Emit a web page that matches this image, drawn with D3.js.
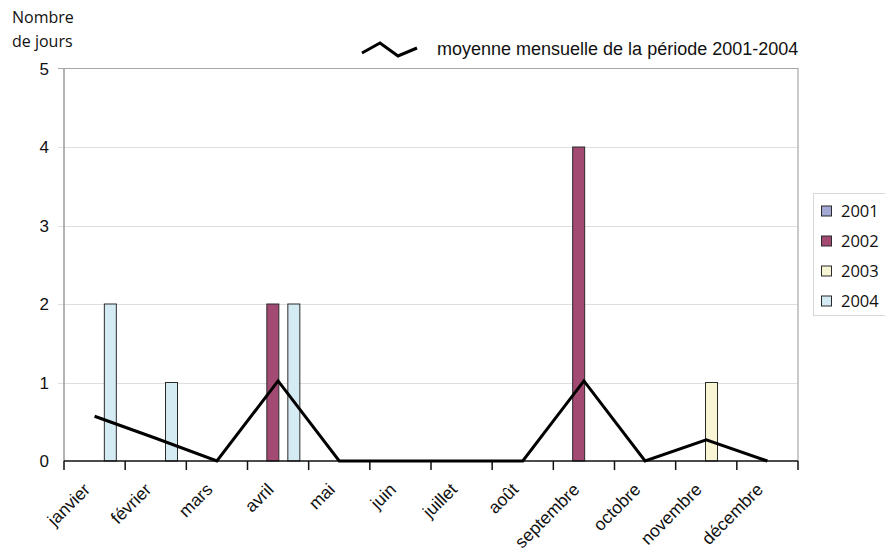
<!DOCTYPE html>
<html lang="fr">
<head>
<meta charset="utf-8">
<title>Nombre de jours par mois</title>
<script src="https://cdn.jsdelivr.net/npm/d3@7"></script>
<style>
  body { margin: 0; background: #fff; }
  svg { display: block; }
</style>
</head>
<body>
<script>
// Data
var months = ["janvier", "février", "mars", "avril", "mai", "juin", "juillet",
              "août", "septembre", "octobre", "novembre", "décembre"];
var years = ["2001", "2002", "2003", "2004"];
var v2001 = [0, 0, 0, 0, 0, 0, 0, 0, 0, 0, 0, 0];
var v2002 = [0, 0, 0, 2, 0, 0, 0, 0, 4, 0, 0, 0];
var v2003 = [0, 0, 0, 0, 0, 0, 0, 0, 0, 0, 1, 0];
var v2004 = [2, 1, 0, 2, 0, 0, 0, 0, 0, 0, 0, 0];
var moyenne = [0.57, 0.29, 0, 1.02, 0, 0, 0, 0, 1.02, 0, 0.27, 0];
var yTicks = [0, 1, 2, 3, 4, 5];
var colors = ["#a3a8d4", "#a34a72", "#f8f5d5", "#d5ebf4"];

var w = 885, h = 551;
var plotL = 64, plotR = 798, plotT = 68.5, plotB = 461;

var series = [v2001, v2002, v2003, v2004];

var svg = d3.select("body").append("svg")
    .attr("width", w)
    .attr("height", h);

var xScale = d3.scaleBand()
    .domain(months)
    .range([plotL, plotR])
    .padding(0);

var subScale = d3.scalePoint()
    .domain(years)
    .range([-15.75, 15.75]);

var yScale = d3.scaleLinear()
    .domain([0, 5])
    .range([plotB, plotT]);

var barW = 12;

// gridlines
svg.append("g")
    .selectAll("line")
    .data(yTicks.filter(function(d) { return d > 0 && d < 5; }))
    .enter().append("line")
    .attr("x1", plotL - 6)
    .attr("x2", plotR)
    .attr("y1", function(d) { return Math.round(yScale(d)) + 0.5; })
    .attr("y2", function(d) { return Math.round(yScale(d)) + 0.5; })
    .attr("stroke", "#dedede")
    .attr("stroke-width", 1);

// plot border (top, right) and y axis
svg.append("path")
    .attr("d", "M" + (plotL - 6) + "," + plotT + "H" + plotR + "V" + plotB)
    .attr("fill", "none")
    .attr("stroke", "#a8a8a8")
    .attr("stroke-width", 1.2);

svg.append("line")
    .attr("x1", plotL).attr("x2", plotL)
    .attr("y1", plotT).attr("y2", plotB)
    .attr("stroke", "#9a9a9a")
    .attr("stroke-width", 1.5);

// y tick labels
svg.append("g")
    .selectAll("text")
    .data(yTicks)
    .enter().append("text")
    .attr("x", 49)
    .attr("y", function(d) { return yScale(d); })
    .attr("dy", "0.36em")
    .attr("text-anchor", "end")
    .attr("font-family", "Liberation Sans, Arial, sans-serif")
    .attr("font-size", "17px")
    .attr("fill", "#111")
    .text(function(d) { return d; });

// bars
var barData = [];
months.forEach(function(m, i) {
    years.forEach(function(y, j) {
        if (series[j][i] > 0) barData.push({ month: m, year: y, value: series[j][i], idx: j });
    });
});

svg.append("g")
    .selectAll("rect")
    .data(barData)
    .enter().append("rect")
    .attr("x", function(d) {
        return xScale(d.month) + xScale.bandwidth() / 2 + subScale(d.year) - barW / 2;
    })
    .attr("y", function(d) { return yScale(d.value); })
    .attr("width", barW)
    .attr("height", function(d) { return yScale(0) - yScale(d.value); })
    .attr("fill", function(d) { return colors[d.idx]; })
    .attr("stroke", "#2a2a2a")
    .attr("stroke-width", 1);

// x axis
var xAxis = svg.append("g");
xAxis.append("line")
    .attr("x1", plotL).attr("x2", plotR)
    .attr("y1", plotB).attr("y2", plotB)
    .attr("stroke", "#111")
    .attr("stroke-width", 1.5);

var tickPos = months.map(function(m) { return xScale(m); }).concat([plotR]);
xAxis.selectAll("line.tick")
    .data(tickPos)
    .enter().append("line")
    .attr("class", "tick")
    .attr("x1", function(d) { return d; })
    .attr("x2", function(d) { return d; })
    .attr("y1", plotB)
    .attr("y2", plotB + 9)
    .attr("stroke", "#111")
    .attr("stroke-width", 1.5);

xAxis.selectAll("text")
    .data(months)
    .enter().append("text")
    .attr("transform", function(d) {
        return "translate(" + (xScale(d) + xScale.bandwidth() / 2 - 12) + "," + (plotB + 21) + ") rotate(-45)";
    })
    .attr("text-anchor", "end")
    .attr("dy", "0.7em")
    .attr("font-family", "Liberation Sans, Arial, sans-serif")
    .attr("font-size", "17.5px")
    .attr("fill", "#111")
    .text(function(d) { return d; });

// average line
var line = d3.line()
    .x(function(d, i) { return xScale(months[i]) + xScale.bandwidth() / 2; })
    .y(function(d) { return yScale(d); });

svg.append("path")
    .datum(moyenne)
    .attr("d", line)
    .attr("fill", "none")
    .attr("stroke", "#000")
    .attr("stroke-width", 3)
    .attr("stroke-linejoin", "miter");

// y axis title
svg.append("text")
    .attr("x", 12).attr("y", 23)
    .attr("font-family", "Open Sans, sans-serif")
    .attr("font-size", "16px")
    .attr("fill", "#111")
    .text("Nombre");
svg.append("text")
    .attr("x", 12).attr("y", 47)
    .attr("font-family", "Open Sans, sans-serif")
    .attr("font-size", "16px")
    .attr("fill", "#111")
    .text("de jours");

// top legend for the line
svg.append("path")
    .attr("d", "M362,53L380,43L398,56L417,48")
    .attr("fill", "none")
    .attr("stroke", "#000")
    .attr("stroke-width", 3);
svg.append("text")
    .attr("x", 437).attr("y", 55)
    .attr("font-family", "Liberation Sans, Arial, sans-serif")
    .attr("font-size", "18px")
    .attr("fill", "#111")
    .text("moyenne mensuelle de la période 2001-2004");

// right legend for the years
var legend = svg.append("g");
legend.append("rect")
    .attr("x", 813.5).attr("y", 193.5)
    .attr("width", 80).attr("height", 122)
    .attr("fill", "#fff")
    .attr("stroke", "#d8d8d8");

var legendY = d3.scalePoint().domain(years).range([211, 301]);
var items = legend.selectAll("g.item")
    .data(years)
    .enter().append("g")
    .attr("class", "item")
    .attr("transform", function(d) { return "translate(0," + legendY(d) + ")"; });
items.append("rect")
    .attr("x", 821.5).attr("y", -5)
    .attr("width", 10).attr("height", 10)
    .attr("fill", function(d, i) { return colors[i]; })
    .attr("stroke", "#2a2a2a");
items.append("text")
    .attr("x", 841)
    .attr("dy", "0.36em")
    .attr("font-family", "Open Sans, sans-serif")
    .attr("font-size", "16.5px")
    .attr("fill", "#111")
    .text(function(d) { return d; });
</script>
</body>
</html>
